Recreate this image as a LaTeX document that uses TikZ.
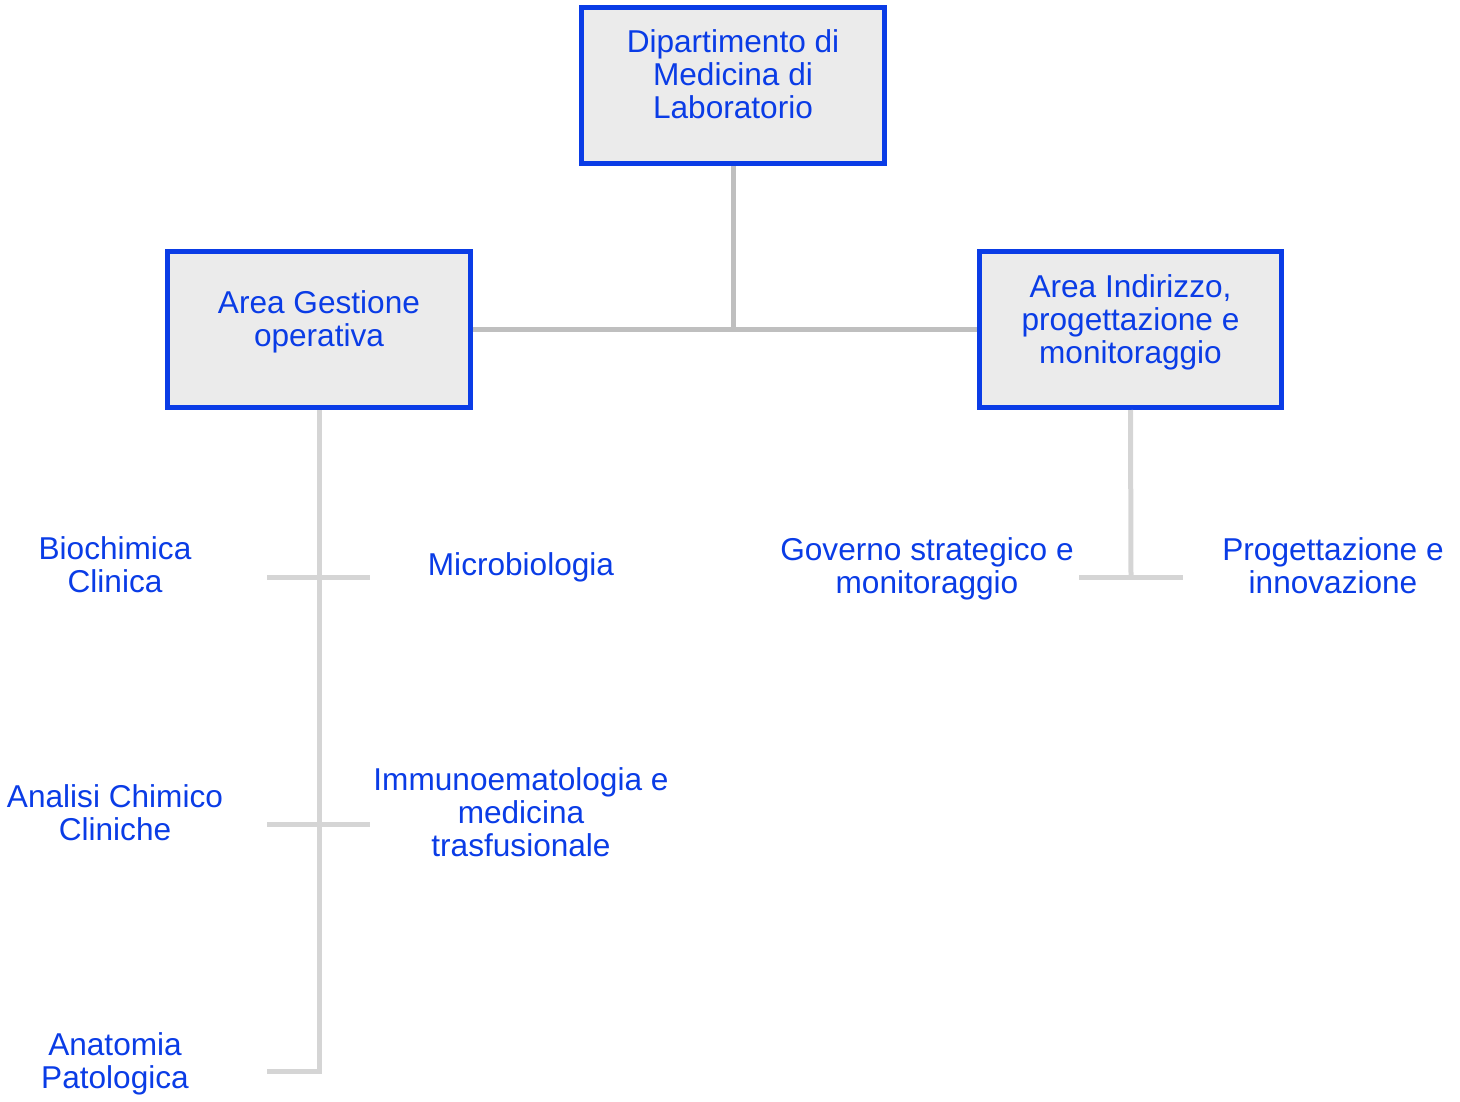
\documentclass[tikz,border=0pt]{standalone}
\usepackage{fontspec}
\setmainfont{Liberation Sans}
\definecolor{orgblue}{HTML}{0A3CE6}
\definecolor{boxfill}{HTML}{EBEBEB}
\definecolor{linkdark}{HTML}{BFBFBF}
\definecolor{linklight}{HTML}{D5D5D5}
\begin{document}
\begin{tikzpicture}[x=0.75pt,y=-0.75pt,
  orgbox/.style={draw=orgblue,fill=boxfill,line width=3.75pt,
    minimum width=227pt,minimum height=117pt,inner sep=0pt},
  orgtext/.style={text=orgblue,align=center,inner sep=0pt,
    font=\fontsize{23.7}{24.75}\selectfont},
  linkmain/.style={draw=linkdark,line width=3.75pt},
  linksub/.style={draw=linklight,line width=3.75pt}]
\useasboundingbox (0,0) rectangle (1460,1102);

% boxes
\node[orgbox] (dip) at (733,86) {};
\node[orgtext] (diptxt) at (733,74) {Dipartimento di\\Medicina di\\Laboratorio};
\node[orgbox] (gest) at (319,329.5) {};
\node[orgtext] (gesttxt) at (319,321.5) {Area Gestione\\operativa};
\node[orgbox] (indir) at (1130.5,329.5) {};
\node[orgtext] (indirtxt) at (1130.5,322) {Area Indirizzo,\\progettazione e\\monitoraggio};

% unit labels
\node[orgtext] (bio) at (115,565) {Biochimica\\Clinica};
\node[orgtext] (micro) at (521,567) {Microbiologia};
\node[orgtext] (anal) at (115,812.5) {Analisi Chimico\\Cliniche};
\node[orgtext] (immu) at (521,812.5) {Immunoematologia e\\medicina\\trasfusionale};
\node[orgtext] (anat) at (115,1063.5) {Anatomia\\Patologica};
\node[orgtext] (gov) at (927,569) {Governo strategico e\\monitoraggio};
\node[orgtext] (prog) at (1333,565.5) {Progettazione e\\innovazione};

% junction points
\coordinate (hub) at (733,329);
\coordinate (g1l) at (267,577);
\coordinate (g1r) at (370,577);
\coordinate (g2l) at (267,824);
\coordinate (g2r) at (370,824);
\coordinate (g3) at (319,1071.5);
\coordinate (g3l) at (267,1071.5);
\coordinate (i1) at (1131,577);
\coordinate (i1l) at (1079,577);
\coordinate (i1r) at (1183,577);

% connectors
\draw[linkmain] (dip.south) -- (hub);
\draw[linkmain] (gest.east) -- (indir.west);

\draw[linksub,line join=miter] (gest.south) -- (g3) -- (g3l);
\draw[linksub] (g1l) -- (g1r);
\draw[linksub] (g2l) -- (g2r);

\draw[linksub] (indir.south) -- (i1);
\draw[linksub] (i1l) -- (i1r);
\end{tikzpicture}
\end{document}
